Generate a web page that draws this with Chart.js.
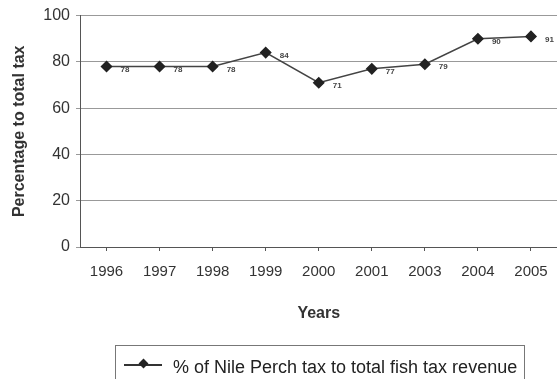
<!DOCTYPE html>
<html>
<head>
<meta charset="utf-8">
<script src="https://cdn.jsdelivr.net/npm/chart.js@4"></script>
<style>
  body { margin: 0; background: #fff; overflow: hidden; }
  #wrap { position: relative; width: 557px; height: 379px; overflow: hidden; }
  #legend {
    position: absolute; left: 115px; top: 345px; width: 410px; height: 40px;
    border: 1px solid #777; border-bottom: none; box-sizing: border-box;
    font: 18px "Liberation Sans", Arial, sans-serif; color: #222;
  }
  #legend .sym { position: absolute; left: 8px; top: 18px; width: 38px; border-top: 2px solid #333; }
  #legend .dia { position: absolute; left: 24px; top: 14px; width: 7px; height: 7px; background: #222; transform: rotate(45deg); }
  #legend .txt { position: absolute; left: 57px; top: 11px; white-space: nowrap; }
</style>
</head>
<body>
<div id="wrap">
  <canvas id="chart" width="564" height="379"></canvas>
  <div id="legend"><span class="sym"></span><span class="dia"></span><span class="txt">% of Nile Perch tax to total fish tax revenue</span></div>
</div>
<script>
// данные
const years = ["1996", "1997", "1998", "1999", "2000", "2001", "2003", "2004", "2005"];
const nilePerchShare = [78, 78, 78, 84, 71, 77, 79, 90, 91];
const yTicks = [0, 20, 40, 60, 80, 100];

const font = "'Liberation Sans', Arial, sans-serif";

// подписи значений справа от точек
const valueLabels = {
  id: "valueLabels",
  afterDatasetsDraw(chart) {
    const ctx = chart.ctx;
    const meta = chart.getDatasetMeta(0);
    ctx.save();
    ctx.font = "bold 8px " + font;
    ctx.fillStyle = "#444";
    ctx.textBaseline = "middle";
    meta.data.forEach((pt, i) => {
      ctx.fillText(String(nilePerchShare[i]), pt.x + 14, pt.y + 3);
    });
    ctx.restore();
  },
};

new Chart(document.getElementById("chart"), {
  type: "line",
  data: {
    labels: years,
    datasets: [
      {
        label: "% of Nile Perch tax to total fish tax revenue",
        data: nilePerchShare,
        borderColor: "#444",
        borderWidth: 1.5,
        backgroundColor: "#222",
        pointStyle: "rectRot",
        pointRadius: 5,
        pointBackgroundColor: "#222",
        pointBorderColor: "#222",
        tension: 0,
      },
    ],
  },
  options: {
    responsive: false,
    animation: false,
    layout: { padding: { top: 8, right: 0, bottom: 52, left: 0 } },
    plugins: { legend: { display: false }, tooltip: { enabled: false } },
    scales: {
      x: {
        offset: true,
        grid: { drawOnChartArea: false, drawTicks: true, tickLength: 4, color: "#555" },
        border: { color: "#555", width: 1 },
        ticks: { color: "#333", font: { family: font, size: 15 }, maxRotation: 0, autoSkip: false, padding: 12 },
        title: { display: true, text: "Years", color: "#333", font: { family: font, size: 16, weight: "bold" }, padding: { top: 12 } },
        afterFit(scale) { scale.height = 80; },
      },
      y: {
        min: 0,
        max: 100,
        afterBuildTicks(scale) { scale.ticks = yTicks.map((v) => ({ value: v })); },
        grid: { color: "#999", tickLength: 4 },
        border: { color: "#555", width: 1 },
        ticks: { color: "#333", font: { family: font, size: 16 }, padding: 6 },
        title: { display: true, text: "Percentage to total tax", color: "#333", font: { family: font, size: 16, weight: "bold" }, padding: { top: 10 } },
        afterFit(scale) { scale.width = 80; },
      },
    },
  },
  plugins: [valueLabels],
});
</script>
</body>
</html>
